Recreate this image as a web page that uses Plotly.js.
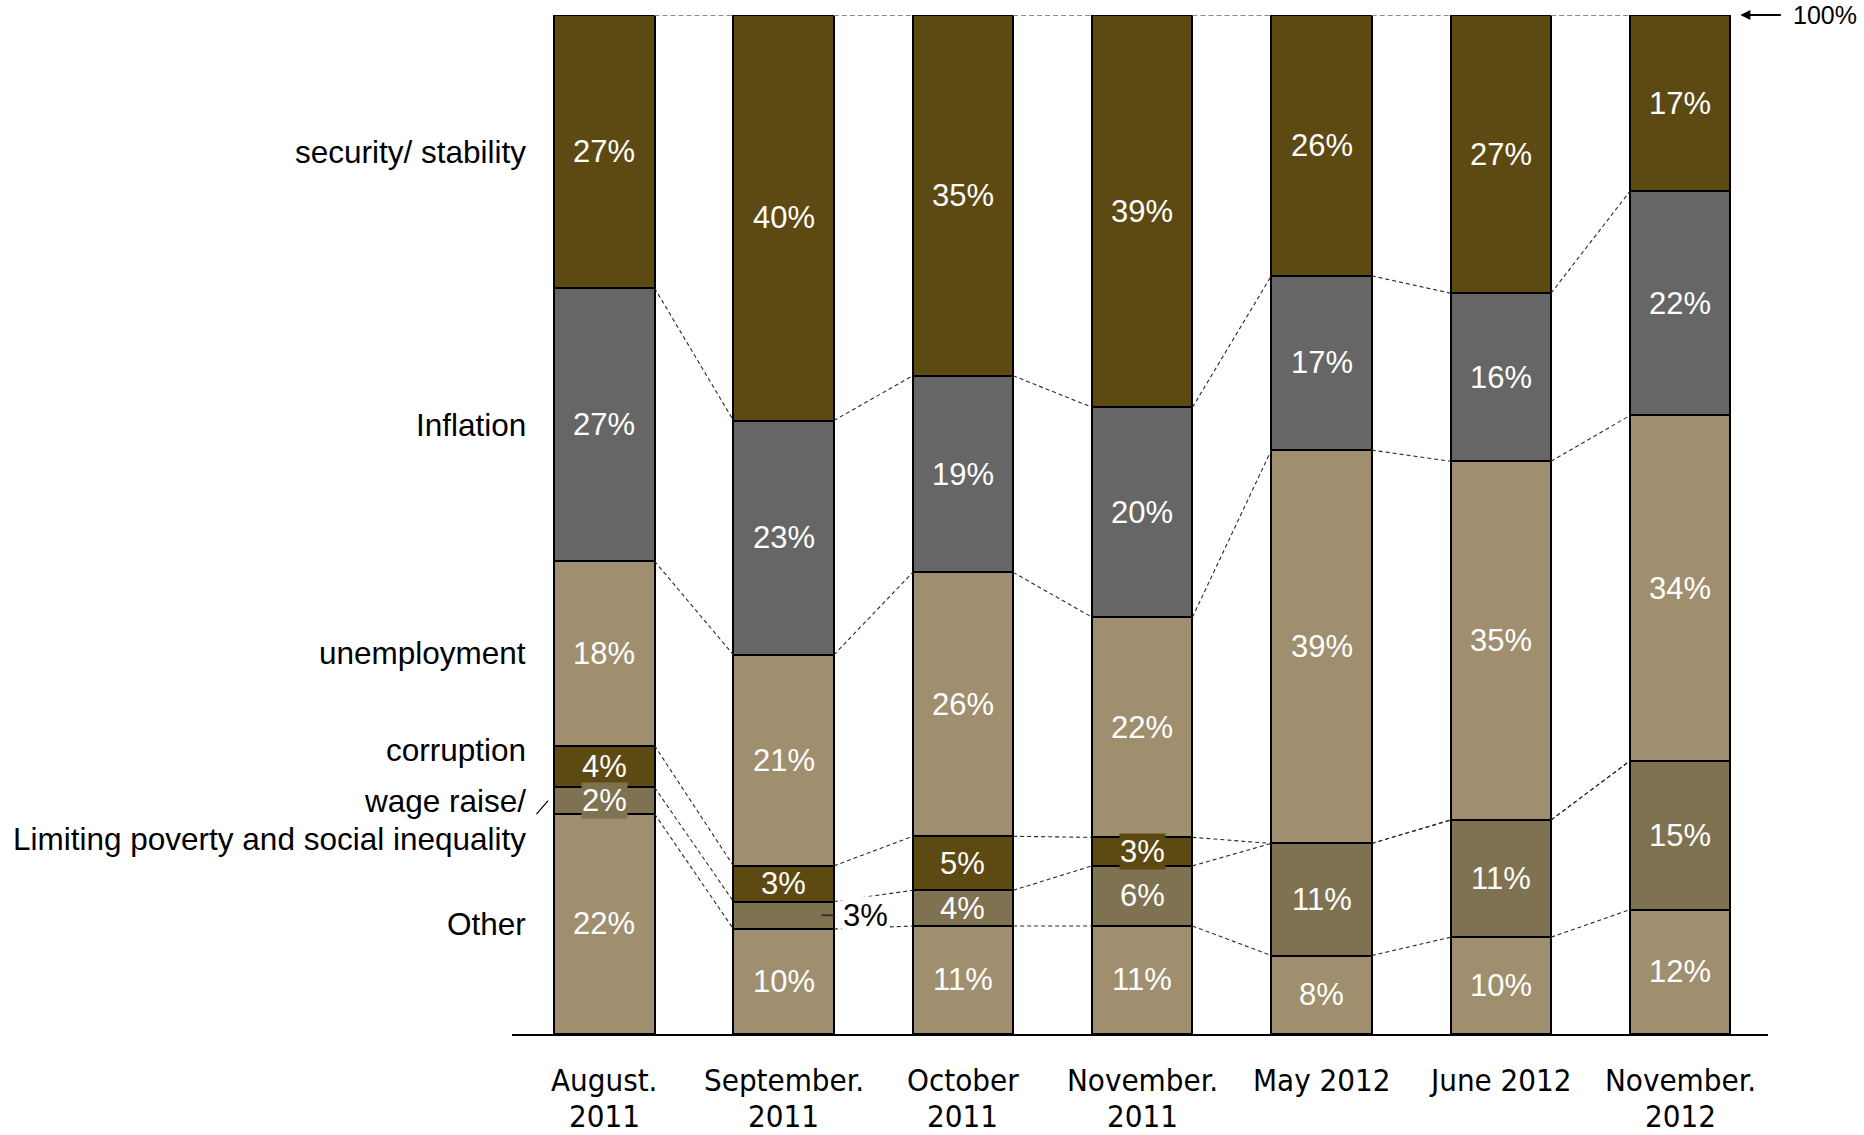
<!DOCTYPE html>
<html>
<head>
<meta charset="utf-8">
<script src="https://cdn.plot.ly/plotly-3.0.1.min.js"></script>
<style>
  html, body { margin: 0; padding: 0; background: #ffffff; }
  #chart { width: 1864px; height: 1135px; }
</style>
</head>
<body>
<div id="chart"></div>
<script>
// ---- Data (segment heights, percent of respondents) ----
const categories = ["August.<br>2011", "September.<br>2011", "October<br>2011", "November.<br>2011", "May 2012", "June 2012", "November.<br>2012"];

const other        = [21.6, 10.3, 10.6, 10.6,  7.7,  9.5, 12.2];
const wageRaise    = [ 2.6,  2.7,  3.5,  5.9, 11.0, 11.5, 14.6];
const corruption   = [ 4.1,  3.5,  5.3,  2.8, null, null, null];
const unemployment = [18.1, 20.7, 25.9, 21.6, 38.6, 35.2, 33.9];
const inflation    = [26.8, 23.0, 19.3, 20.6, 17.1, 16.5, 22.0];
const security     = [26.8, 39.8, 35.4, 38.5, 25.6, 27.3, 17.3];

// printed labels
const otherLbl        = ["22%", "10%", "11%", "11%", "8%", "10%", "12%"];
const wageRaiseLbl    = ["2%", "3%", "4%", "6%", "11%", "11%", "15%"];
const corruptionLbl   = ["4%", "3%", "5%", "3%", null, null, null];
const unemploymentLbl = ["18%", "21%", "26%", "22%", "39%", "35%", "34%"];
const inflationLbl    = ["27%", "23%", "19%", "20%", "17%", "16%", "22%"];
const securityLbl     = ["27%", "40%", "35%", "39%", "26%", "27%", "17%"];

const seriesNames = ["Other", "wage raise/ Limiting poverty and social inequality", "corruption", "unemployment", "Inflation", "security/ stability"];
const sideLabels  = ["Other", "wage raise/<br>Limiting poverty and social inequality", "corruption", "unemployment", "Inflation", "security/ stability"];

// ---- Styles ----
const TAN = "#a08f6f", WAGE = "#7f7251", BROWN = "#5d4a12", GRAY = "#666666";
const colors = [TAN, WAGE, BROWN, TAN, GRAY, BROWN];
const BAR_W = 0.56, HW = BAR_W / 2;
const FONT = "'Liberation Sans', Arial, sans-serif";
const NARROW = "'Liberation Sans Narrow', 'Arial Narrow', 'DejaVu Sans Condensed', sans-serif";

const values = [other, wageRaise, corruption, unemployment, inflation, security];
const labels = [otherLbl, wageRaiseLbl, corruptionLbl, unemploymentLbl, inflationLbl, securityLbl];
const xIdx = categories.map((_, i) => i);

// cumulative tops
const cum = values.map(() => []);
for (let i = 0; i < categories.length; i++) {
  let s = 0;
  for (let k = 0; k < values.length; k++) {
    s += (values[k][i] || 0);
    cum[k][i] = s;
  }
}
const bottomOf = (k, i) => (k === 0 ? 0 : cum[k - 1][i]);

const traces = [];
// connector dashed lines
for (let k = 0; k < values.length; k++) {
  const xs = [], ys = [];
  for (let i = 0; i < categories.length - 1; i++) {
    xs.push(i + HW, i + 1 - HW, null);
    ys.push(cum[k][i], cum[k][i + 1], null);
  }
  const top = (k === values.length - 1);
  traces.push({
    type: "scatter", mode: "lines", x: xs, y: ys, hoverinfo: "skip", showlegend: false,
    cliponaxis: false,
    line: { color: top ? "#8a8a8a" : "#2a2a2a", width: top ? 2 : 1.1, dash: top ? "5px,3px" : "4px,3px" }
  });
}
// stacked bars
for (let k = 0; k < values.length; k++) {
  traces.push({
    type: "bar", name: seriesNames[k], x: xIdx, y: values[k], width: BAR_W,
    marker: { color: colors[k], line: { color: "#000000", width: 2 } },
    cliponaxis: false, hoverinfo: "skip", showlegend: false
  });
}

const annotations = [];
const VAL_SIZE = 31;
// in-bar value labels
const boxed = { "0-1": WAGE, "3-2": BROWN };   // label boxes drawn over borders
for (let k = 0; k < values.length; k++) {
  for (let i = 0; i < categories.length; i++) {
    const v = values[k][i];
    if (v == null || labels[k][i] == null) continue;
    const mid = bottomOf(k, i) + v / 2;
    if (i === 1 && k === 1) {
      // September wage raise: label outside the bar with a leader
      annotations.push({ x: i + HW, y: mid, xref: "x", yref: "y", text: "", showarrow: true,
        arrowhead: 0, ax: -14, ay: 0, arrowwidth: 2, arrowcolor: "#333333", standoff: 0 });
      annotations.push({ x: i + HW, y: mid, xref: "x", yref: "y", text: labels[k][i], showarrow: false,
        xanchor: "left", xshift: 7, bgcolor: "#ffffff", font: { family: FONT, size: VAL_SIZE, color: "#000000" } });
      continue;
    }
    const a = { x: i, y: mid, xref: "x", yref: "y", text: labels[k][i], showarrow: false,
      font: { family: FONT, size: VAL_SIZE, color: "#ffffff" } };
    if (boxed[i + "-" + k]) { a.bgcolor = boxed[i + "-" + k]; a.borderpad = 0; }
    annotations.push(a);
  }
}
// side category labels (aligned with the first bar), one annotation per line
const sideShift = [0, 0, 17, 0, 0, 0];
const SIDE_LINE = 38;
for (let k = 0; k < values.length; k++) {
  const mid = bottomOf(k, 0) + values[k][0] / 2;
  const lines = sideLabels[k].split("<br>");
  lines.forEach((ln, j) => {
    annotations.push({ x: -HW, y: mid, xref: "x", yref: "y", text: ln, showarrow: false,
      xanchor: "right", xshift: -26, yshift: sideShift[k] - j * SIDE_LINE,
      font: { family: FONT, size: 31.5, color: "#000000" } });
  });
}
// wage leader tick
annotations.push({ x: -HW, y: bottomOf(1, 0) + values[1][0] / 2, xref: "x", yref: "y", text: "",
  showarrow: true, arrowhead: 0, ax: -13, ay: 15, xshift: -6, arrowwidth: 1.2, arrowcolor: "#000000", standoff: 0 });
// 100% marker
const last = categories.length - 1;
annotations.push({ x: last + HW, y: cum[values.length - 1][last], xref: "x", yref: "y", text: "",
  showarrow: true, arrowhead: 2, arrowsize: 1, arrowwidth: 2, arrowcolor: "#000000", ax: 52, ay: 0, standoff: 10 });
annotations.push({ x: last + HW, y: cum[values.length - 1][last], xref: "x", yref: "y", text: "100%",
  showarrow: false, xanchor: "left", xshift: 61, font: { family: FONT, size: 25, color: "#000000" } });
// category labels under the axis, one annotation per line
categories.forEach((c, i) => {
  c.split("<br>").forEach((ln, j) => {
    annotations.push({ x: i, y: 0, xref: "x", yref: "paper", text: ln, showarrow: false,
      yanchor: "middle", yshift: -46 - j * 36,
      font: { family: NARROW, size: 31, color: "#000000" } });
  });
});

const layout = {
  width: 1864, height: 1135,
  margin: { l: 512, r: 96, t: 15, b: 101 },
  paper_bgcolor: "#ffffff", plot_bgcolor: "#ffffff",
  barmode: "stack", showlegend: false,
  xaxis: {
    range: [-0.515, 6.49], tickvals: xIdx, showticklabels: false,
    showline: true, linecolor: "#000000", linewidth: 2, ticks: "", showgrid: false, zeroline: false, fixedrange: true
  },
  yaxis: { range: [0, 100], visible: false, showgrid: false, zeroline: false, fixedrange: true },
  annotations: annotations
};

Plotly.newPlot("chart", traces, layout, { displayModeBar: false, staticPlot: true });
</script>
</body>
</html>
